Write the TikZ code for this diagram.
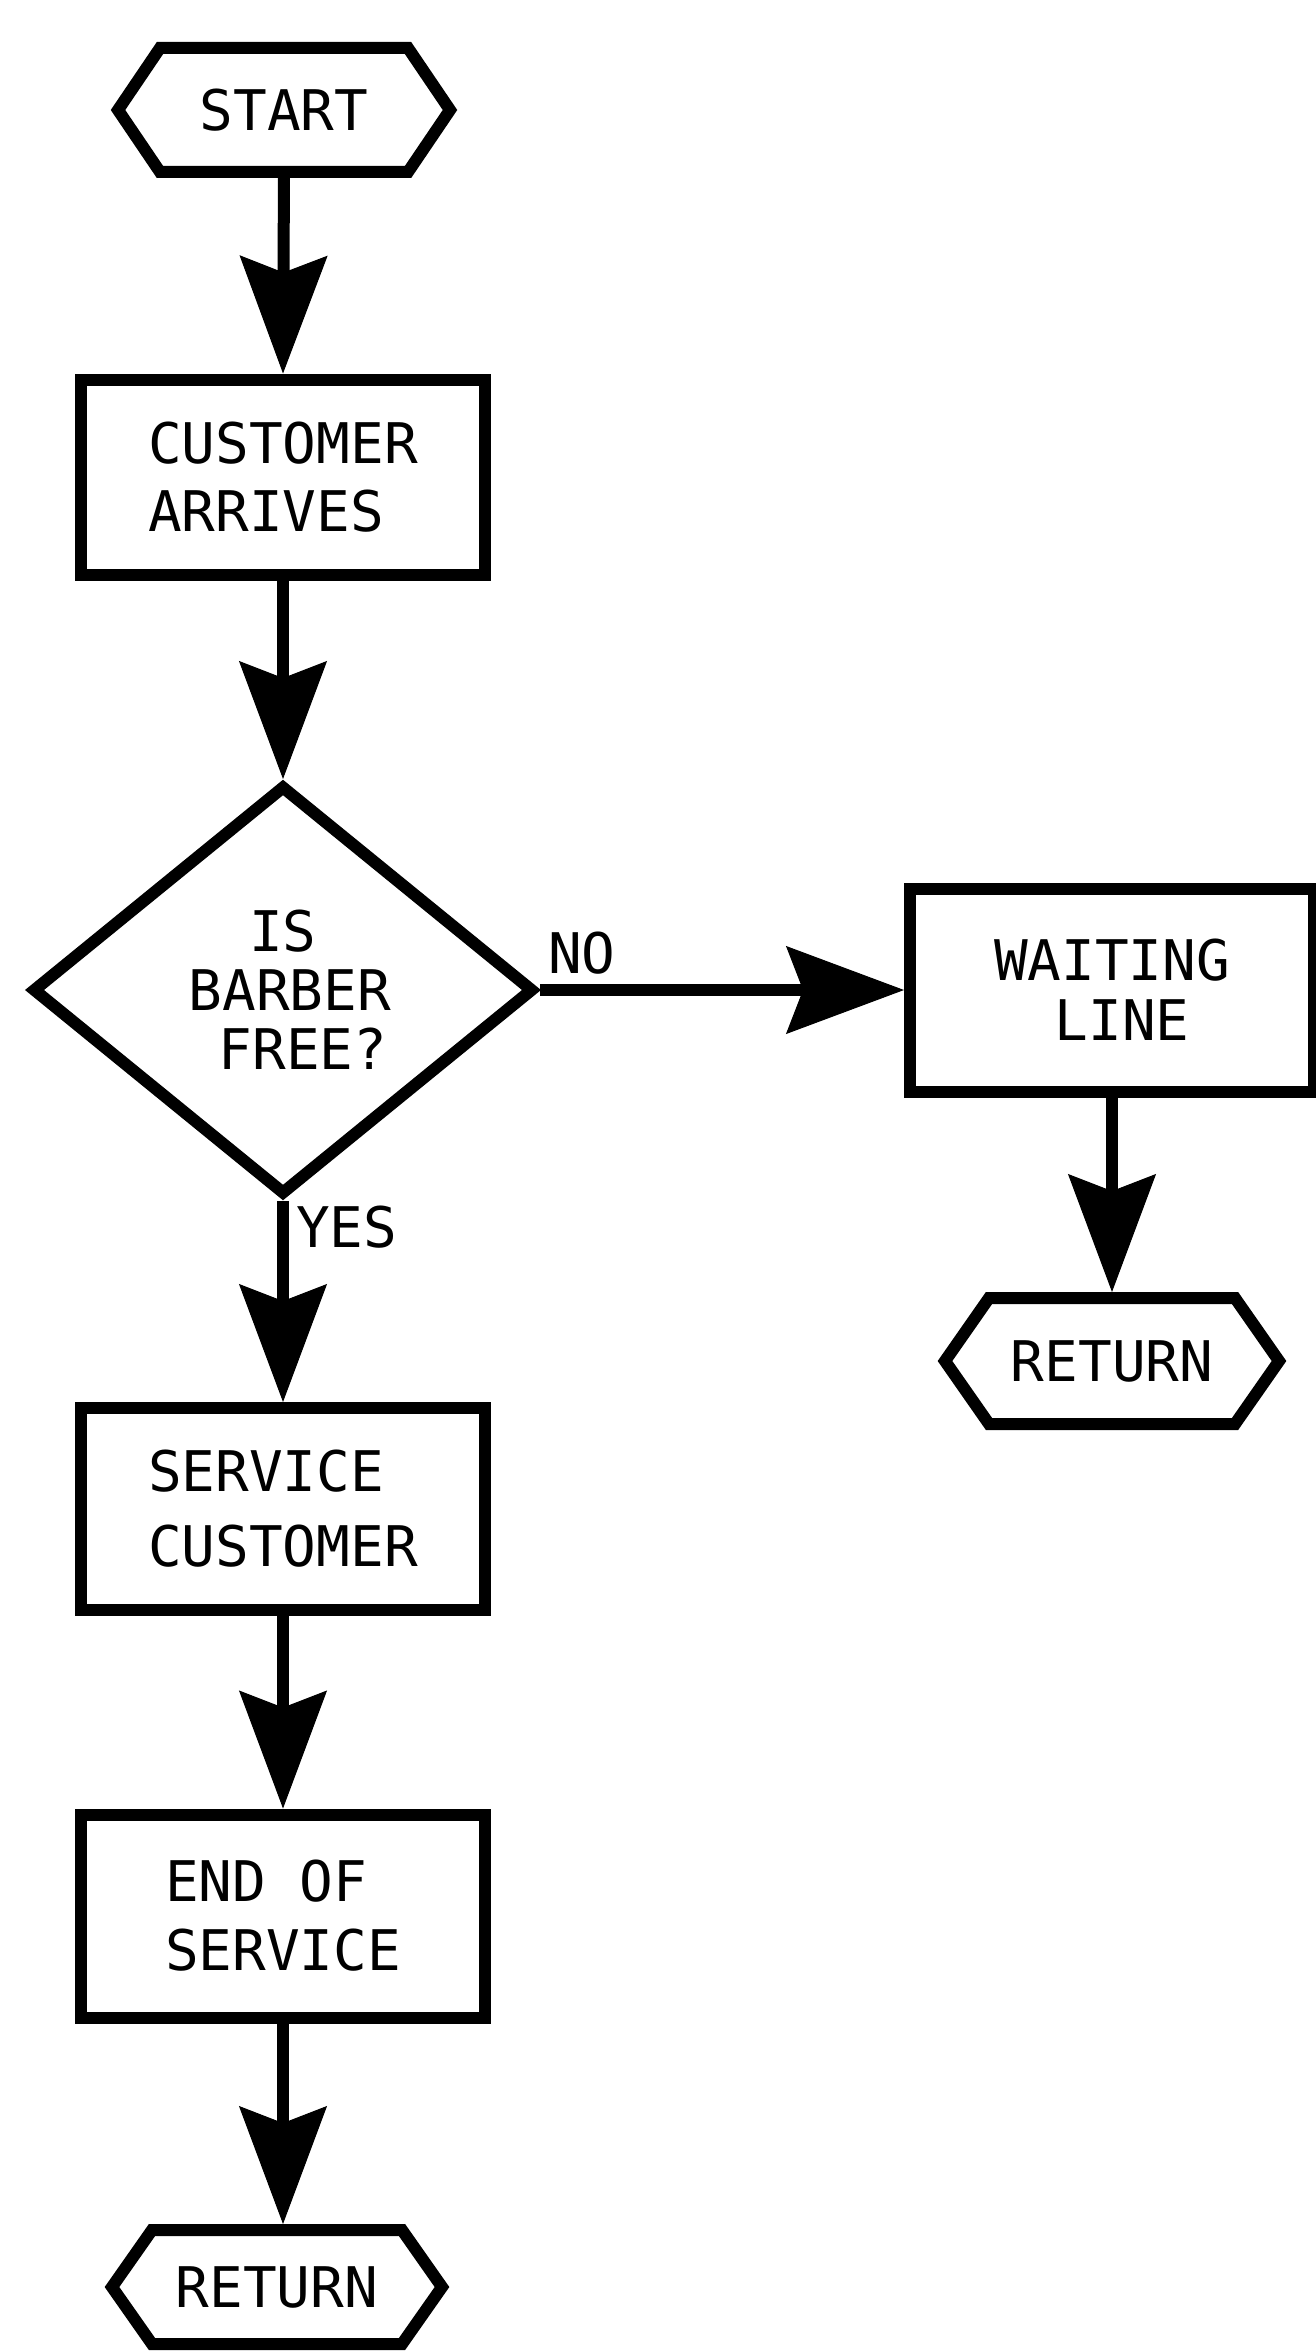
\documentclass[tikz,border=0pt]{standalone}
\usepackage{fontspec}
\newfontfamily\flowfont{DejaVu Sans Mono}
\usetikzlibrary{arrows.meta,shapes.geometric}

% hexagonal terminal outline, drawn round a named node
\newcommand\drawhex[2]{%
  \draw[outline] (#1.west) -- ([xshift=#2]#1.north west) -- ([xshift=-#2]#1.north east)
    -- (#1.east) -- ([xshift=-#2]#1.south east) -- ([xshift=#2]#1.south west) -- cycle;}

\begin{document}
\begin{tikzpicture}[x=1pt,y=-1pt,
  outline/.style={line width=12pt, line join=miter},
  txt/.style={font=\flowfont\fontsize{56}{#1}\selectfont},
  procbox/.style={draw, outline, rectangle, minimum width=404pt, minimum height=200pt,
    inner sep=0pt, align=left},
  termbox/.style={rectangle, inner sep=0pt, outer sep=0pt, txt=60},
  decbox/.style={draw, outline, diamond, minimum width=502pt, minimum height=410pt,
    inner sep=0pt, align=center, txt=59},
  flow/.style={line width=12pt,
    -{Stealth[length=118pt, width=88pt, inset=17pt, line width=1pt]}},
  lbl/.style={inner sep=0pt, txt=60}]

  \fill[white] (0,0) rectangle (1316,2352);
  \useasboundingbox (0,0) rectangle (1316,2352);

  % main column
  \node[termbox, minimum width=332pt, minimum height=124pt] (start) at (284,110) {START};
  \drawhex{start}{42pt}

  \node[procbox, txt=68, minimum height=195pt] (arrive) at (283,477) {CUSTOMER\\ARRIVES};

  \node[decbox] (decision) at (283,990) {IS\\\hspace*{14pt}BARBER\\\hspace*{40pt}FREE?};

  \node[procbox, txt=75, minimum height=202pt] (service) at (283,1509) {SERVICE\\CUSTOMER};

  \node[procbox, txt=69, minimum height=203pt] (endsvc) at (283,1916) {END OF\\SERVICE};

  \node[termbox, minimum width=330pt, minimum height=114pt] (ret2) at (277,2287) {RETURN};
  \drawhex{ret2}{40pt}

  % waiting branch
  \node[procbox, txt=60, align=center, minimum height=203pt] (wait) at (1112,990) {WAITING\\\hspace*{20pt}LINE};

  \node[termbox, minimum width=334pt, minimum height=126pt] (ret1) at (1112,1361) {RETURN};
  \drawhex{ret1}{44pt}

  % connectors
  \draw[flow] (start.south) -- (arrive.north);
  \draw[flow] (arrive.south) -- (decision.north);
  \draw[flow] (decision.east) -- (decision.east -| wait.west);
  \draw[flow] (wait.south) -- ([yshift=6pt]ret1.north);
  \draw[flow] (decision.south) -- (service.north);
  \draw[flow] (service.south) -- (endsvc.north);
  \draw[flow] (endsvc.south) -- ([yshift=6pt]endsvc.south |- ret2.north);

  % branch labels
  \node[lbl, anchor=base west] (nolbl) at (548,973) {NO};
  \node[lbl, anchor=base west] (yeslbl) at (296,1247) {YES};
\end{tikzpicture}
\end{document}
